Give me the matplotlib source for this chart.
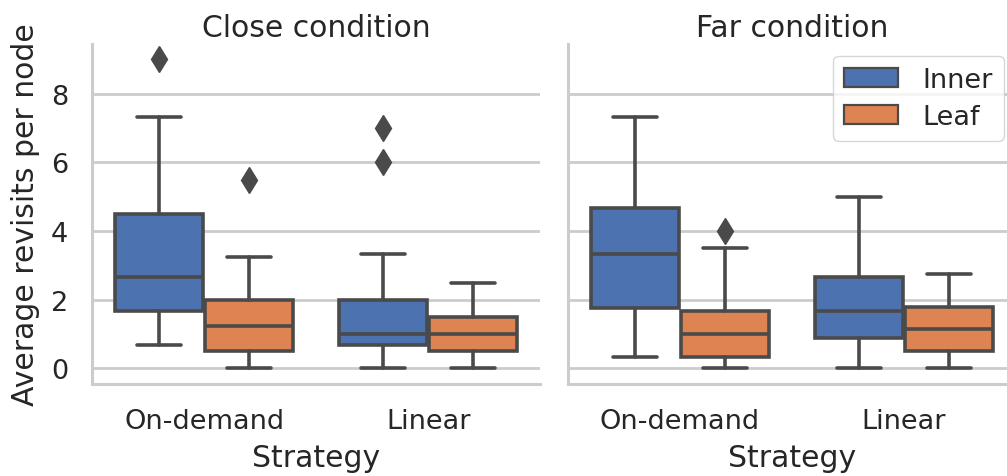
import matplotlib.pyplot as plt
import seaborn as sns
from matplotlib.patches import Patch

conditions = ["Close condition", "Far condition"]
strategies = ["On-demand", "Linear"]
node_types = ["Inner", "Leaf"]

# box summaries, ordered On-demand/Inner, On-demand/Leaf, Linear/Inner, Linear/Leaf
close_lo = [0.67, 0.0, 0.0, 0.0]
close_q1 = [1.67, 0.5, 0.67, 0.5]
close_med = [2.67, 1.25, 1.0, 1.0]
close_q3 = [4.5, 2.0, 2.0, 1.5]
close_hi = [7.33, 3.25, 3.33, 2.5]
close_fliers = [[9.0], [5.5], [6.0, 7.0], []]

far_lo = [0.33, 0.0, 0.0, 0.0]
far_q1 = [1.75, 0.33, 0.9, 0.5]
far_med = [3.33, 1.0, 1.67, 1.14]
far_q3 = [4.67, 1.67, 2.67, 1.8]
far_hi = [7.33, 3.5, 5.0, 2.75]
far_fliers = [[], [4.0], [], []]

sns.set_theme(style="whitegrid")
plt.rcParams["font.family"] = ["DejaVu Sans"]

palette = ["#4c72b0", "#dd8452"]
gray = "#4a4a4a"
lw = 2.6


def make_stats(lo, q1, med, q3, hi, fliers):
    return [
        dict(whislo=a, q1=b, med=c, q3=d, whishi=e, fliers=f)
        for a, b, c, d, e, f in zip(lo, q1, med, q3, hi, fliers)
    ]


panels = [
    make_stats(close_lo, close_q1, close_med, close_q3, close_hi, close_fliers),
    make_stats(far_lo, far_q1, far_med, far_q3, far_hi, far_fliers),
]

fig = plt.figure(figsize=(10.07, 4.77), dpi=100)
ax1 = fig.add_axes([0.0914, 0.193, 0.445, 0.713])
ax2 = fig.add_axes([0.564, 0.193, 0.445, 0.713], sharey=ax1)
axes = [ax1, ax2]

width = 0.8 / len(node_types) * 0.98
offsets = [-0.2, 0.2]

for ax, title, stats in zip(axes, conditions, panels):
    positions = []
    for i in range(len(strategies)):
        for off in offsets:
            positions.append(i + off)
    parts = ax.bxp(
        stats,
        positions=positions,
        widths=width,
        patch_artist=True,
        showfliers=True,
        boxprops=dict(edgecolor=gray, linewidth=lw),
        medianprops=dict(color=gray, linewidth=lw),
        whiskerprops=dict(color=gray, linewidth=lw),
        capprops=dict(color=gray, linewidth=lw),
        flierprops=dict(marker="d", markerfacecolor=gray, markeredgecolor=gray,
                        markersize=13, linestyle="none"),
    )
    for k, box in enumerate(parts["boxes"]):
        box.set_facecolor(palette[k % 2])
    ax.set_xlim(-0.5, len(strategies) - 0.5)
    ax.set_xticks(range(len(strategies)))
    ax.set_xticklabels(strategies)
    ax.set_title(title, fontsize=21.5, color="#262626")
    ax.set_xlabel("Strategy", fontsize=21.5, labelpad=7, color="#262626")
    ax.xaxis.grid(False)
    ax.yaxis.grid(True, color="#cccccc", linewidth=2.0)
    for side in ["top", "right"]:
        ax.spines[side].set_visible(False)
    for side in ["left", "bottom"]:
        ax.spines[side].set_color("#cccccc")
        ax.spines[side].set_linewidth(2.2)
    ax.tick_params(axis="both", labelsize=19.5, length=0, colors="#262626")
    ax.tick_params(axis="x", pad=17)
    ax.tick_params(axis="y", pad=17)

ax1.set_ylim(-0.45, 9.45)
ax1.set_yticks([0, 2, 4, 6, 8])
ax1.set_ylabel("Average revisits per node", fontsize=21.5, color="#262626",
               labelpad=8)
ax2.tick_params(axis="y", labelleft=False)

handles = [Patch(facecolor=palette[i], edgecolor=gray, linewidth=1.6, label=n)
           for i, n in enumerate(node_types)]
ax2.legend(handles=handles, loc="upper right", fontsize=19.5, handlelength=2.0,
           handletextpad=0.9, labelspacing=0.4, borderaxespad=0.45,
           edgecolor="#cccccc", labelcolor="#262626")

fig.savefig("out.png", dpi=100)
